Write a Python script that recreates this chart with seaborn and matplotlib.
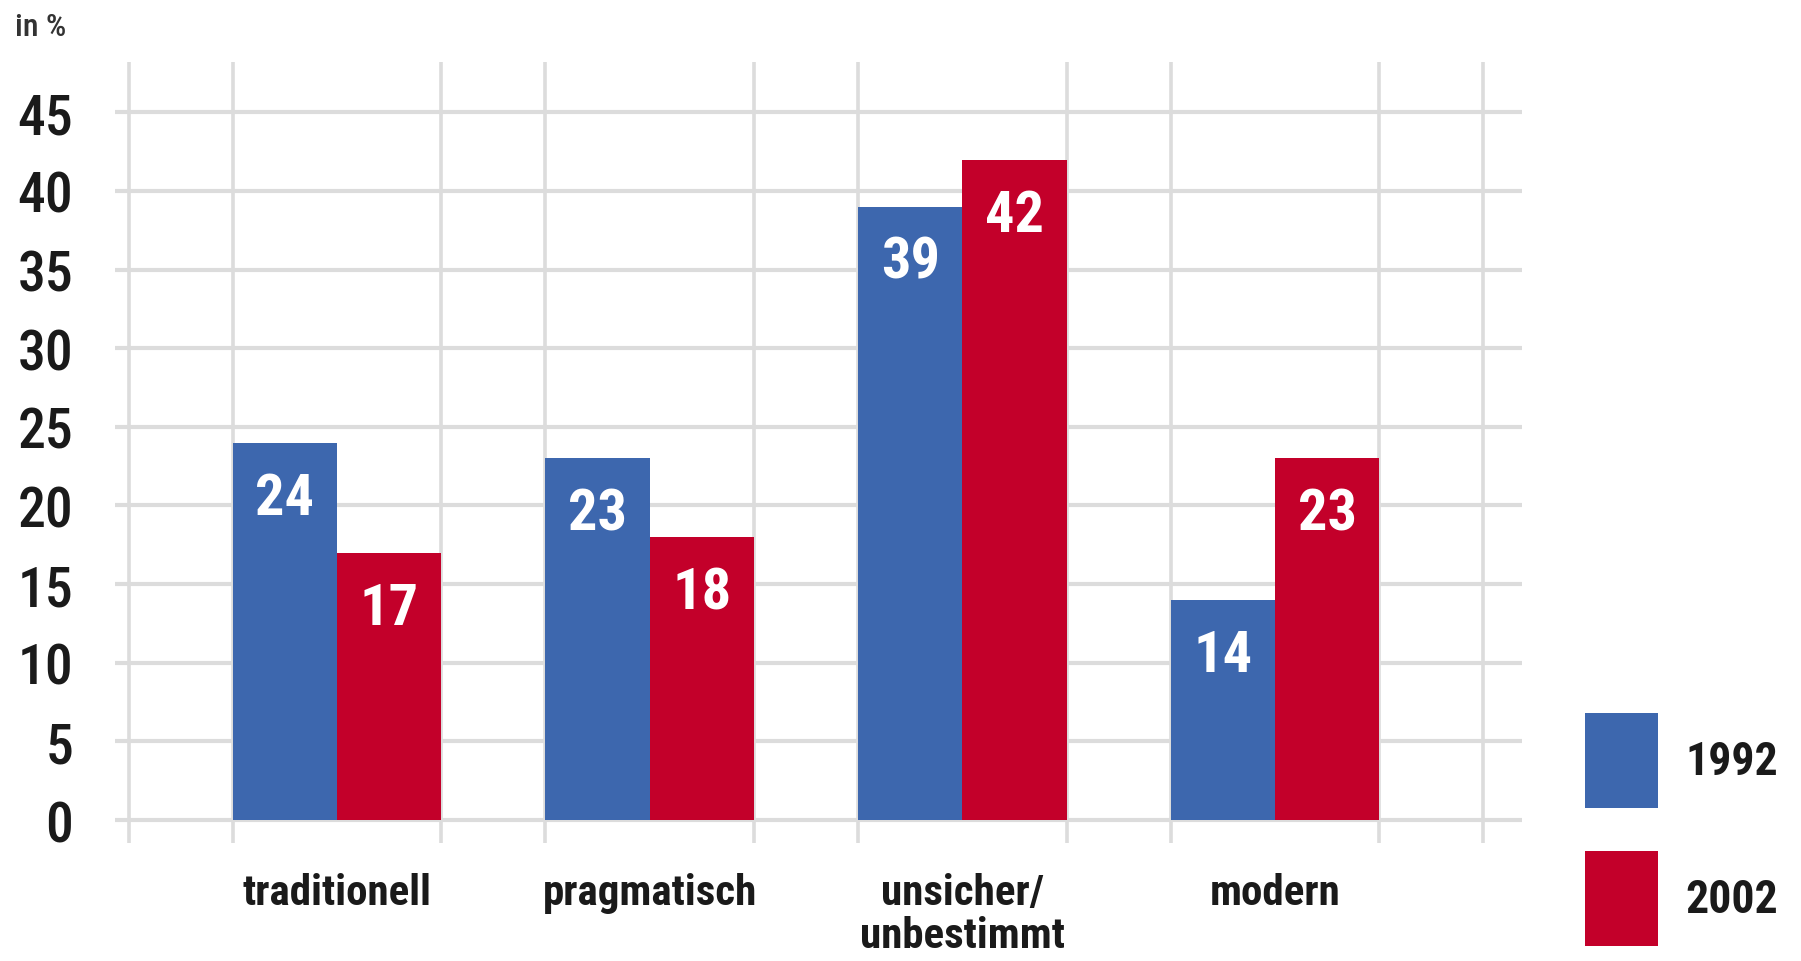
import matplotlib
matplotlib.use("Agg")
import matplotlib.pyplot as plt
from matplotlib.patches import Patch
import seaborn as sns
import pandas as pd

categories = ["traditionell", "pragmatisch", "unsicher/\nunbestimmt", "modern"]
years = ["1992", "2002"]
values_1992 = [24, 23, 39, 14]
values_2002 = [17, 18, 42, 23]
y_ticks = [0, 5, 10, 15, 20, 25, 30, 35, 40, 45]
unit_label = "in %"

colors = {"1992": "#3D67AE", "2002": "#C3002A"}
grid_color = "#DCDCDC"

df = pd.DataFrame({
    "Kategorie": categories * 2,
    "Jahr": [years[0]] * len(categories) + [years[1]] * len(categories),
    "Wert": values_1992 + values_2002,
})

sns.set_theme(style="white")
FONT = ["Roboto Condensed", "DejaVu Sans"]
plt.rcParams["font.family"] = FONT

fig = plt.figure(figsize=(18.01, 9.62), dpi=100)
ax = fig.add_axes([115 / 1801, 1 - 844 / 962, (1522 - 115) / 1801, (844 - 63) / 962])

sns.barplot(data=df, x="Kategorie", y="Wert", hue="Jahr", order=categories,
            hue_order=years, palette=colors, width=2 / 3, gap=0, saturation=1,
            errorbar=None, legend=False, ax=ax, zorder=3, linewidth=0)

ax.set_xlim(-0.71, 3.79)
ax.set_ylim(-1.46, 48.2)
ax.set_yticks(y_ticks)
ax.set_yticklabels([str(v) for v in y_ticks], fontsize=40, fontweight=500,
                   color="#1a1a1a")
ax.set_xticks(range(len(categories)))
ax.set_xticklabels(categories, fontsize=31, fontweight="bold", linespacing=1.05,
                   color="#1a1a1a")
ax.set_xticks([(k - 2) / 3 for k in range(14)], minor=True)
ax.tick_params(axis="both", which="both", length=0)
ax.tick_params(axis="y", pad=30)
ax.tick_params(axis="x", pad=21)
ax.grid(axis="y", which="major", color=grid_color, linewidth=3, zorder=0)
ax.grid(axis="x", which="minor", color=grid_color, linewidth=2.6, zorder=0)
ax.grid(axis="x", which="major", visible=False)
ax.set_axisbelow(True)
ax.set_xlabel("")
ax.set_ylabel("")
for s in ax.spines.values():
    s.set_visible(False)

for cont in ax.containers:
    for bar in cont:
        h = bar.get_height()
        ax.annotate(f"{int(round(h))}", (bar.get_x() + bar.get_width() / 2, h),
                    xytext=(0, -40), textcoords="offset points",
                    ha="center", va="center", color="white",
                    fontsize=42, fontweight="bold", zorder=5)

fig.text(15 / 1801, 1 - 28 / 962, unit_label, fontsize=23, fontweight=500,
         color="#333333", va="center", ha="left")

handles = [Patch(facecolor=colors[y], edgecolor="none", label=y) for y in years]
fig.legend(handles=handles, loc="upper left",
           bbox_to_anchor=(1585 / 1801, 1 - 714 / 962), frameon=False,
           prop={"family": FONT, "weight": "bold", "size": 33},
           labelcolor="#1a1a1a",
           handlelength=1.6, handleheight=2.8, handletextpad=0.6,
           labelspacing=0.95, borderpad=0, borderaxespad=0)

fig.savefig("out.png", dpi=100, facecolor="white")
